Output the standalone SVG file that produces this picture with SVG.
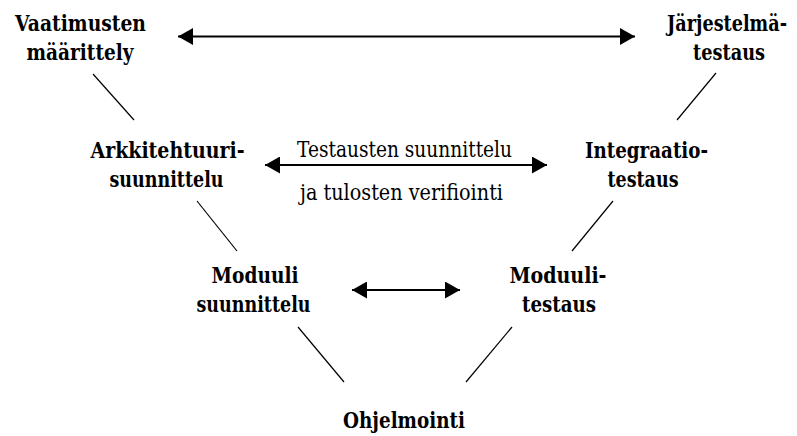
<svg xmlns="http://www.w3.org/2000/svg" width="797" height="436" viewBox="0 0 797 436">
  <style>
    text { font-family: 'DejaVu Serif', 'Liberation Serif', serif; font-size: 22px; fill: #000; text-anchor: middle; }
    .b { font-weight: bold; }
    .edge { stroke: #000; stroke-width: 1.2; fill: none; }
    .arr { stroke: #000; stroke-width: 1.8; fill: none; marker-start: url(#head); marker-end: url(#head); }
  </style>
  <defs>
    <marker id="head" viewBox="0 0 15 17" refX="15" refY="8.5" markerWidth="15" markerHeight="17" markerUnits="userSpaceOnUse" orient="auto-start-reverse">
      <path d="M0,0 L15,8.5 L0,17 Z" fill="#000"/>
    </marker>
  </defs>
  <rect width="797" height="436" fill="#fff"/>

  <!-- left branch of the V -->
  <g id="vaatimusten">
    <text class="b" x="80.5" y="31" textLength="131" lengthAdjust="spacingAndGlyphs">Vaatimusten</text>
    <text class="b" x="80" y="60" textLength="107" lengthAdjust="spacingAndGlyphs">määrittely</text>
  </g>
  <g id="arkkitehtuuri">
    <text class="b" x="167.5" y="158" textLength="154" lengthAdjust="spacingAndGlyphs">Arkkitehtuuri-</text>
    <text class="b" x="166.5" y="187" textLength="114" lengthAdjust="spacingAndGlyphs">suunnittelu</text>
  </g>
  <g id="moduuli-suunnittelu">
    <text class="b" x="255" y="283" textLength="87" lengthAdjust="spacingAndGlyphs">Moduuli</text>
    <text class="b" x="253.5" y="312" textLength="114" lengthAdjust="spacingAndGlyphs">suunnittelu</text>
  </g>

  <!-- bottom -->
  <g id="ohjelmointi">
    <text class="b" x="404" y="428" textLength="122" lengthAdjust="spacingAndGlyphs">Ohjelmointi</text>
  </g>

  <!-- right branch of the V -->
  <g id="jarjestelmatestaus">
    <text class="b" x="727" y="31" textLength="120" lengthAdjust="spacingAndGlyphs">Järjestelmä-</text>
    <text class="b" x="729" y="60" textLength="72" lengthAdjust="spacingAndGlyphs">testaus</text>
  </g>
  <g id="integraatiotestaus">
    <text class="b" x="646.5" y="158" textLength="123" lengthAdjust="spacingAndGlyphs">Integraatio-</text>
    <text class="b" x="643" y="187" textLength="71" lengthAdjust="spacingAndGlyphs">testaus</text>
  </g>
  <g id="moduulitestaus">
    <text class="b" x="558" y="283" textLength="97" lengthAdjust="spacingAndGlyphs">Moduuli-</text>
    <text class="b" x="559" y="312" textLength="74" lengthAdjust="spacingAndGlyphs">testaus</text>
  </g>

  <!-- centre caption -->
  <g id="testausten-suunnittelu">
    <text x="404.5" y="157" textLength="215" lengthAdjust="spacingAndGlyphs">Testausten suunnittelu</text>
    <text x="401.5" y="200" textLength="203" lengthAdjust="spacingAndGlyphs">ja tulosten verifiointi</text>
  </g>

  <g id="connectors">
    <line class="edge" x1="93" y1="74" x2="134" y2="120"/>
    <line class="edge" x1="197" y1="201" x2="237" y2="251"/>
    <line class="edge" x1="298" y1="327" x2="344" y2="382"/>
    <line class="edge" x1="716" y1="73" x2="677" y2="120"/>
    <line class="edge" x1="613" y1="201" x2="572" y2="251"/>
    <line class="edge" x1="512" y1="327" x2="466" y2="382"/>
    <line class="arr" x1="178" y1="36.5" x2="635" y2="36.5"/>
    <line class="arr" x1="265" y1="165" x2="547" y2="165"/>
    <line class="arr" x1="352" y1="290" x2="460" y2="290"/>
  </g>
</svg>
